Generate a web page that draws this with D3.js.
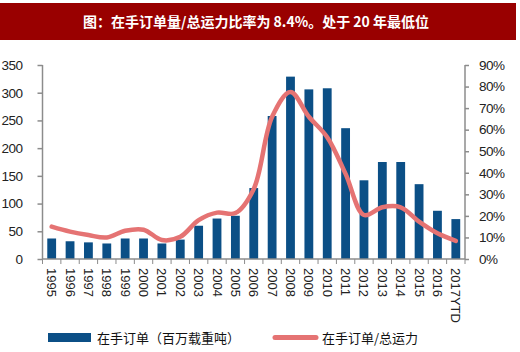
<!DOCTYPE html>
<html>
<head>
<meta charset="utf-8">
<script src="https://cdn.jsdelivr.net/npm/d3@7"></script>
<style>
body { margin: 0; background: #fff; }
svg { display: block; font-family: "Liberation Sans", Arial, sans-serif; }
</style>
</head>
<body>
<div id="chart-area"></div>
<script>
var years = ["1995", "1996", "1997", "1998", "1999", "2000", "2001", "2002", "2003", "2004", "2005", "2006",
    "2007", "2008", "2009", "2010", "2011", "2012", "2013", "2014", "2015", "2016", "2017YTD"];
var orderbook = [37, 32, 30, 28, 37, 37, 28, 35, 60, 73, 78, 128,
    258, 329, 306, 308, 236, 142, 175, 175, 135, 87, 72];
var ratio = [15, 12.7, 11.1, 10, 13.1, 13.6, 8.8, 10.3, 18, 21.5, 21.3, 32.5,
    66, 77.5, 66, 56.5, 39.5, 20.4, 24, 24, 17.3, 11.9, 8.4];
var leftTicks = [0, 50, 100, 150, 200, 250, 300, 350];
var rightTicks = [0, 10, 20, 30, 40, 50, 60, 70, 80, 90];
var title = "图：在手订单量/总运力比率为 8.4%。处于 20 年最低位";
var legendNames = ["在手订单（百万载重吨）", "在手订单/总运力"];

var W = 520, H = 352;
var plotLeft = 42.5, plotRight = 465, plotTop = 65, plotBottom = 259;
var barColor = "#0b4f86", lineColor = "#e57373", axisColor = "#8c8c8c";

var svg = d3.select("#chart-area").append("svg")
    .attr("width", W)
    .attr("height", H);

// title bar
svg.append("rect")
    .attr("x", 0).attr("y", 3)
    .attr("width", 516).attr("height", 37)
    .attr("fill", "#990000");
svg.append("text")
    .attr("x", 256).attr("y", 27)
    .attr("text-anchor", "middle")
    .attr("fill", "#fff")
    .attr("font-family", "'Noto Sans CJK SC', sans-serif")
    .attr("font-weight", "bold")
    .attr("font-size", 14)
    .text(title);

var x = d3.scaleBand()
    .domain(years)
    .range([plotLeft, plotRight])
    .paddingInner(0.52)
    .paddingOuter(0.26);
var yL = d3.scaleLinear().domain([0, 350]).range([plotBottom, plotTop]);
var yR = d3.scaleLinear().domain([0, 90]).range([plotBottom, plotTop]);

// bars
svg.selectAll(".bar")
    .data(orderbook)
    .enter()
    .append("rect")
    .attr("class", "bar")
    .attr("x", function (d, i) { return x(years[i]); })
    .attr("y", function (d) { return yL(d); })
    .attr("width", x.bandwidth())
    .attr("height", function (d) { return plotBottom - yL(d); })
    .attr("fill", barColor);

// smoothed ratio line
var line = d3.line()
    .x(function (d, i) { return x(years[i]) + x.bandwidth() / 2; })
    .y(function (d) { return yR(d); })
    .curve(d3.curveCatmullRom.alpha(0.5));
svg.append("path")
    .datum(ratio)
    .attr("d", line)
    .attr("fill", "none")
    .attr("stroke", lineColor)
    .attr("stroke-width", 4.5)
    .attr("stroke-linecap", "round");

// left axis
var gL = svg.append("g")
    .attr("transform", "translate(" + plotLeft + ",0)")
    .call(d3.axisLeft(yL).tickValues(leftTicks).tickSize(5).tickPadding(15));
// right axis
var gR = svg.append("g")
    .attr("transform", "translate(" + plotRight + ",0)")
    .call(d3.axisRight(yR).tickValues(rightTicks).tickSize(4).tickPadding(10)
        .tickFormat(function (d) { return d + "%"; }));
// bottom axis with ticks between categories
var step = x.step();
var gB = svg.append("g")
    .attr("transform", "translate(0," + plotBottom + ")");
gB.append("line")
    .attr("x1", plotLeft).attr("x2", plotRight)
    .attr("stroke", axisColor).attr("stroke-width", 1.5);
gB.selectAll(".tk")
    .data(d3.range(years.length + 1))
    .enter()
    .append("line")
    .attr("x1", function (i) { return plotLeft + i * step; })
    .attr("x2", function (i) { return plotLeft + i * step; })
    .attr("y1", 0).attr("y2", 5)
    .attr("stroke", axisColor);
gB.selectAll(".lbl")
    .data(years)
    .enter()
    .append("text")
    .attr("transform", function (d) {
        return "translate(" + (x(d) + x.bandwidth() / 2 - 4.5) + ",9) rotate(90)";
    })
    .attr("text-anchor", "start")
    .attr("font-size", 13)
    .attr("fill", "#222")
    .text(function (d) { return d; });

[gL, gR].forEach(function (g) {
    g.selectAll("path, line").attr("stroke", axisColor).attr("stroke-width", 1.5);
    g.selectAll("text").attr("font-size", 13.5).attr("fill", "#222")
        .attr("font-family", "'Liberation Sans', Arial, sans-serif")
        .attr("letter-spacing", "-0.5px");
});
gL.select(".domain").attr("d", "M0," + plotTop + "V" + plotBottom);
gR.select(".domain").attr("d", "M0," + plotTop + "V" + plotBottom);

// legend
var leg = svg.append("g").attr("font-family", "'Noto Sans CJK SC', sans-serif")
    .attr("font-size", 13).attr("fill", "#111");
leg.append("rect")
    .attr("x", 48).attr("y", 333)
    .attr("width", 43).attr("height", 9)
    .attr("fill", barColor);
leg.append("text").attr("x", 97).attr("y", 343).text(legendNames[0]);
leg.append("line")
    .attr("x1", 275).attr("x2", 316)
    .attr("y1", 337.5).attr("y2", 337.5)
    .attr("stroke", lineColor).attr("stroke-width", 5)
    .attr("stroke-linecap", "round");
leg.append("text").attr("x", 322).attr("y", 343).text(legendNames[1]);
</script>
</body>
</html>
